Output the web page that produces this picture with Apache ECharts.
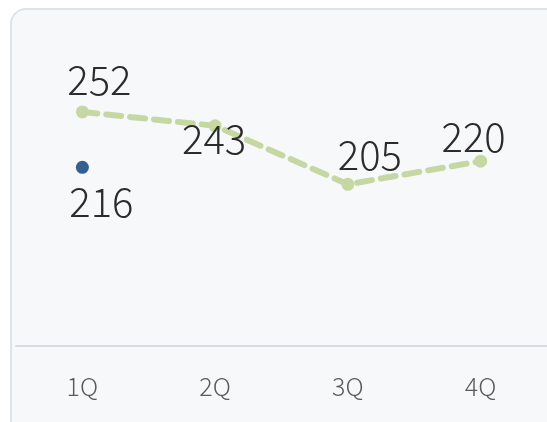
<!DOCTYPE html>
<html>
<head>
<meta charset="utf-8">
<script src="https://cdn.jsdelivr.net/npm/echarts@6/dist/echarts.min.js"></script>
<style>
  html, body { margin: 0; padding: 0; background: #fff; }
  #wrap { position: relative; width: 547px; height: 422px; overflow: hidden; }
  .card {
    position: absolute; left: 10px; top: 8px; width: 580px; height: 460px;
    border: 2px solid #dfe2e6; border-radius: 16px; background: #f7f8fa;
    box-sizing: border-box;
  }
  #chart { position: absolute; left: 0; top: 0; width: 547px; height: 422px; }
</style>
</head>
<body>
<div id="wrap">
  <div class="card"></div>
  <div id="chart"></div>
</div>
<script>
// 数据
const quarters = ['1Q', '2Q', '3Q', '4Q'];
const lineValues = [252, 243, 205, 220];
const dotValues = [216, '-', '-', '-'];
// 标签相对点的偏移
const lineOffsets = [[17, -32], [-1, 13], [22, -30], [-7, -24]];
const dotOffsets = [[19, 34], [0, 0], [0, 0], [0, 0]];

const chart = echarts.init(document.getElementById('chart'));

const fontName = "'Noto Sans CJK SC', Lato";

const labelFont = {
  fontFamily: fontName,
  fontWeight: 300,
  fontSize: 40,
  color: '#2b2b2b'
};

chart.setOption({
  animation: false,
  grid: { left: 16, right: 0, top: 38, bottom: 76 },
  xAxis: {
    type: 'category',
    data: quarters,
    axisLine: { lineStyle: { color: '#d9dbdf', width: 2 } },
    axisTick: { show: false },
    axisLabel: {
      margin: 28,
      fontFamily: fontName,
      fontWeight: 300,
      fontSize: 25,
      color: '#5a5a5a'
    }
  },
  yAxis: {
    type: 'value',
    min: 100,
    max: 300,
    show: false
  },
  series: [
    {
      type: 'line',
      data: lineValues.map((v, i) => ({
        value: v,
        label: { offset: lineOffsets[i] }
      })),
      symbol: 'circle',
      symbolSize: 13,
      lineStyle: { color: '#c6d8a2', width: 6, type: [15, 9], cap: 'round' },
      itemStyle: { color: '#c6d8a2' },
      label: Object.assign({ show: true, position: 'inside' }, labelFont)
    },
    {
      type: 'line',
      data: dotValues.map((v, i) => ({
        value: v,
        label: { offset: dotOffsets[i] }
      })),
      symbol: 'circle',
      symbolSize: 13,
      itemStyle: { color: '#355e91' },
      lineStyle: { width: 0 },
      label: Object.assign({ show: true, position: 'inside' }, labelFont)
    }
  ]
});
</script>
</body>
</html>
